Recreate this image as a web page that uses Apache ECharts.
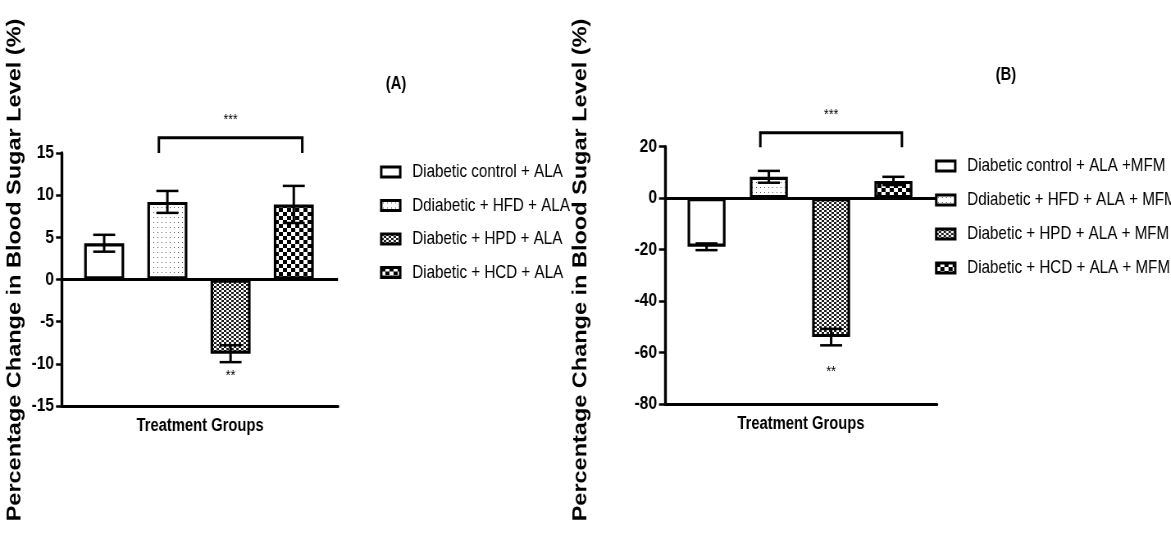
<!DOCTYPE html>
<html><head><meta charset="utf-8">
<script src="https://cdn.jsdelivr.net/npm/echarts@6/dist/echarts.min.js"></script>
<style>
html,body{margin:0;padding:0;background:#fff;overflow:hidden;width:1171px;height:540px}
#c{width:1428px;height:540px;transform:scaleX(0.82);transform-origin:0 0}
</style>
</head><body><div id="c"></div>
<script>
// ---- data ----
const groupsA = ['Diabetic control + ALA', 'Ddiabetic + HFD + ALA', 'Diabetic + HPD + ALA', 'Diabetic + HCD + ALA'];
const groupsB = ['Diabetic control + ALA +MFM', 'Ddiabetic + HFD + ALA + MFM', 'Diabetic + HPD + ALA + MFM', 'Diabetic + HCD + ALA + MFM'];
const meanA = [4.3, 9.2, -8.8, 8.9];
const semA = [1.0, 1.3, 1.0, 2.2];
const meanB = [-18.9, 8.3, -54.0, 6.7];
const semB = [1.3, 2.3, 3.2, 1.6];
const yRangeA = [-15, 15, 5];
const yRangeB = [-80, 20, 20];
const bracketA = [1, 3, 16.8, 15.0];   // from group, to group, top, leg end
const bracketB = [1, 3, 25.4, 19.8];
const starsA = [[2, 18.9, '***'], [2, -11.4, '**']];
const starsB = [[2, 32.4, '***'], [2, -67.6, '**']];
const panelLabels = ['(A)', '(B)'];
const xTitle = 'Treatment Groups';
const yTitle = 'Percentage Change in Blood Sugar Level (%)';

// ---- styles ----
const K = 0.82;                 // horizontal compression of the figure
const X = px => px / K;         // screen px -> chart px (horizontal)
const FONT = "'Liberation Sans',Arial,sans-serif";
function pat(w, h, draw) {
  const c = document.createElement('canvas'); c.width = w; c.height = h;
  const g = c.getContext('2d'); g.fillStyle = '#fff'; g.fillRect(0, 0, w, h); draw(g);
  return { image: c, repeat: 'repeat' };
}
const fills = [
  '#ffffff',
  pat(5, 5, g => { g.fillStyle = '#555'; g.fillRect(2, 2, 1, 1); }),
  pat(6, 4, g => { g.fillStyle = '#1e1e1e'; g.fillRect(0, 0, 3, 2); g.fillRect(3, 2, 3, 2); }),
  pat(10, 8, g => { g.fillStyle = '#000'; g.fillRect(0, 0, 5, 4); g.fillRect(5, 4, 5, 4); })
];

const chart = echarts.init(document.getElementById('c'), null, { renderer: 'canvas' });

const grids = [
  { left: X(62), top: 153, width: X(276), height: 253 },
  { left: X(665), top: 146.7, width: X(272), height: 257.3 }
];

function xAx(gi) {
  return {
    type: 'value', gridIndex: gi, min: -0.667, max: 3.7,
    axisLine: { show: true, onZero: false, lineStyle: { color: '#000', width: 3 } },
    axisTick: { show: false }, axisLabel: { show: false }, splitLine: { show: false },
    name: xTitle, nameLocation: 'middle', nameGap: 11,
    nameTextStyle: { fontFamily: FONT, fontWeight: 'bold', fontSize: 18, color: '#000', verticalAlign: 'top' }
  };
}
function yAx(gi, r) {
  return {
    type: 'value', gridIndex: gi, min: r[0], max: r[1], interval: r[2],
    axisLine: { show: true, onZero: false, lineStyle: { color: '#000', width: 3.4 } },
    axisTick: { show: true, length: X(6), lineStyle: { color: '#000', width: 2.5 } },
    axisLabel: { fontFamily: FONT, fontWeight: 'bold', fontSize: 19, color: '#000', margin: X(8) },
    splitLine: { show: false }
  };
}

function barSeries(gi, names, means, zero, bw) {
  return names.map((n, i) => {
    const s = {
      type: 'bar', name: n, xAxisIndex: gi, yAxisIndex: gi,
      barWidth: X(bw), barGap: '-100%',
      data: [[i, means[i]]],
      itemStyle: { color: fills[i], borderColor: '#000', borderWidth: 3.2 },
      z: 2
    };
    if (i === 0) {
      s.markLine = {
        silent: true, symbol: 'none', label: { show: false },
        lineStyle: { color: '#000', width: 3, type: 'solid' },
        data: [{ yAxis: zero }], z: 5
      };
    }
    return s;
  });
}

function errSeries(gi, means, sems) {
  return {
    type: 'custom', xAxisIndex: gi, yAxisIndex: gi, z: 4, silent: true,
    data: means.map((m, i) => [i, m, sems[i]]),
    renderItem: (p, api) => {
      const x = api.value(0), m = api.value(1), e = api.value(2);
      const top = api.coord([x, m + e]), bot = api.coord([x, m - e]);
      const hw = X(11);
      return { type: 'group', children: [
        { type: 'line', shape: { x1: top[0], y1: top[1], x2: bot[0], y2: bot[1] }, style: { stroke: '#000', lineWidth: 3 } },
        { type: 'line', shape: { x1: top[0] - hw, y1: top[1], x2: top[0] + hw, y2: top[1] }, style: { stroke: '#000', lineWidth: 2.5 } },
        { type: 'line', shape: { x1: bot[0] - hw, y1: bot[1], x2: bot[0] + hw, y2: bot[1] }, style: { stroke: '#000', lineWidth: 2.5 } }
      ] };
    }
  };
}

function bracketSeries(gi, b) {
  return {
    type: 'custom', xAxisIndex: gi, yAxisIndex: gi, z: 4, silent: true, clip: false,
    data: [b],
    renderItem: (p, api) => {
      const a = api.coord([api.value(0), api.value(2)]);
      const c = api.coord([api.value(1), api.value(3)]);
      const off = X(8.5);
      return { type: 'polyline', shape: { points: [[a[0] - off, c[1]], [a[0] - off, a[1]], [c[0] + off, a[1]], [c[0] + off, c[1]]] },
        style: { stroke: '#000', lineWidth: 3, fill: null } };
    }
  };
}

function starSeries(gi, st) {
  return {
    type: 'custom', xAxisIndex: gi, yAxisIndex: gi, z: 4, silent: true, clip: false,
    data: st.map(s => [s[0], s[1]]),
    renderItem: (p, api) => {
      const pt = api.coord([api.value(0), api.value(1)]);
      return { type: 'text', x: pt[0], y: pt[1],
        style: { text: st[p.dataIndex][2], fontFamily: FONT, fontSize: 15, fill: '#000', align: 'center', verticalAlign: 'middle' } };
    }
  };
}

function legend(names, left, top, gap) {
  return {
    data: names, orient: 'vertical', left: X(left), top: top, padding: 0,
    itemWidth: X(19), itemHeight: 10, itemGap: gap, icon: 'rect',
    selectedMode: false,
    itemStyle: { borderColor: '#000', borderWidth: 3 },
    textStyle: { fontFamily: FONT, fontSize: 18.5, color: '#000', padding: [0, 0, 0, X(12) - 5] }
  };
}

function yTitleText(x, y) {
  return { type: 'text', x: X(x), y: y, rotation: Math.PI / 2, silent: true,
    style: { text: yTitle, fontFamily: FONT, fontWeight: 'bold', fontSize: 23.5, fill: '#000', align: 'center', verticalAlign: 'middle' } };
}
function panelText(t, x, y) {
  return { type: 'text', x: X(x), y: y, silent: true,
    style: { text: t, fontFamily: FONT, fontWeight: 'bold', fontSize: 18, fill: '#000', align: 'center', verticalAlign: 'middle' } };
}

chart.setOption({
  animation: false,
  backgroundColor: '#fff',
  grid: grids,
  xAxis: [xAx(0), xAx(1)],
  yAxis: [yAx(0, yRangeA), yAx(1, yRangeB)],
  legend: [legend(groupsA, 380, 162.5, 14.5), legend(groupsB, 935, 156.5, 15)],
  graphic: [
    yTitleText(15, 270), yTitleText(581, 270),
    panelText(panelLabels[0], 396, 84), panelText(panelLabels[1], 1006, 75)
  ],
  series: [
    ...barSeries(0, groupsA, meanA, 0, 40),
    ...barSeries(1, groupsB, meanB, 0, 38),
    errSeries(0, meanA, semA), errSeries(1, meanB, semB),
    bracketSeries(0, bracketA), bracketSeries(1, bracketB),
    starSeries(0, starsA), starSeries(1, starsB)
  ]
});
</script></body></html>
